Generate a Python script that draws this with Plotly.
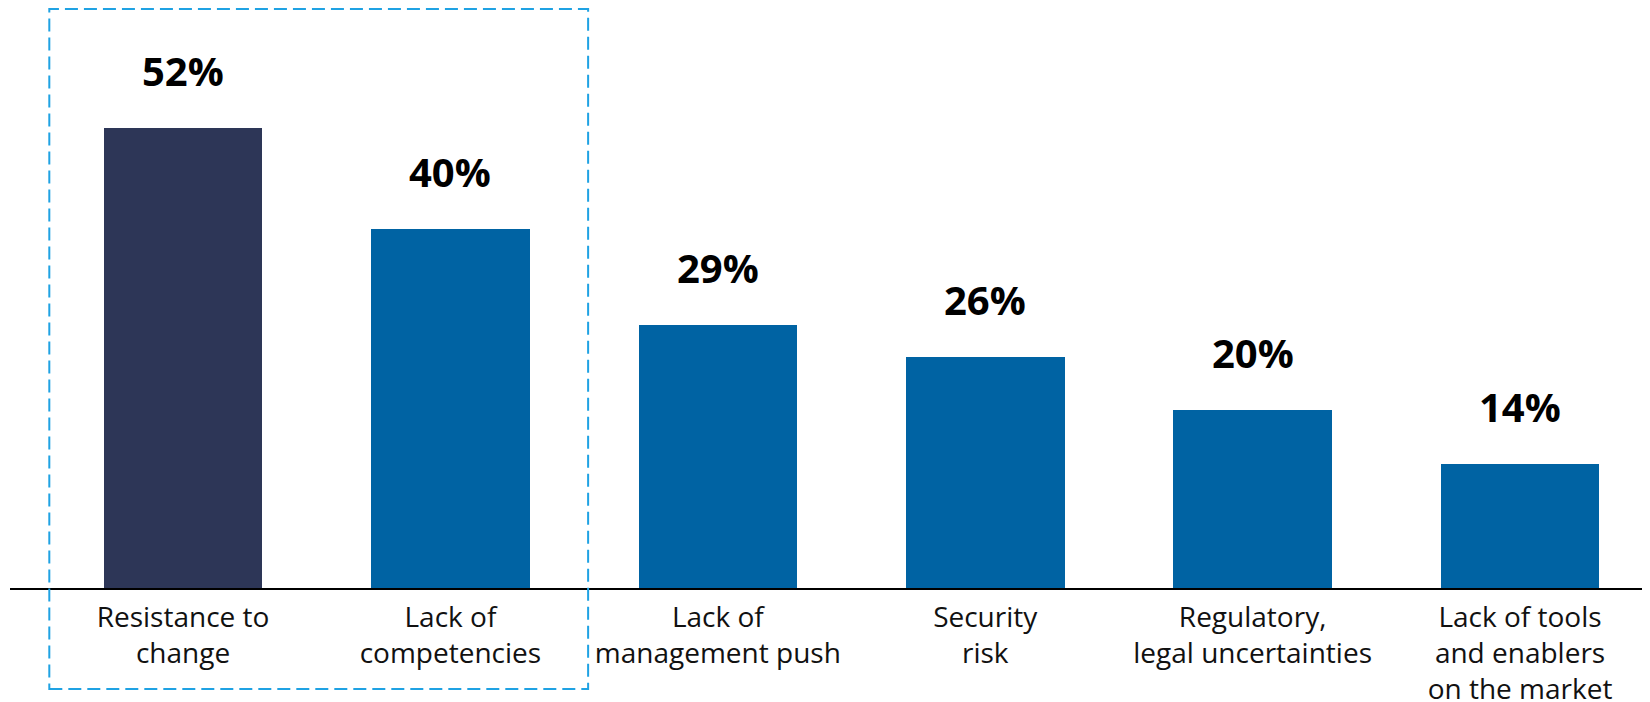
import plotly.graph_objects as go

categories = [
    "Resistance to<br>change",
    "Lack of<br>competencies",
    "Lack of<br>management push",
    "Security<br>risk",
    "Regulatory,<br>legal uncertainties",
    "Lack of tools<br>and enablers<br>on the market",
]
values = [52, 40.6, 29.8, 26.1, 20.1, 14]
value_labels = ["52%", "40%", "29%", "26%", "20%", "14%"]
bar_colors = ["#2D3657", "#0063A3", "#0063A3", "#0063A3", "#0063A3", "#0063A3"]

W, H = 1650, 702
ML, MR, MT, MB = 2, 0, 0, 122
plot_h = H - MT - MB
px_per_unit = 8.84
y_max = plot_h / px_per_unit

x_idx = list(range(len(categories)))

fig = go.Figure()
fig.add_trace(go.Bar(
    x=x_idx, y=values,
    marker=dict(color=bar_colors, line=dict(width=0)),
    width=0.593,
    hoverinfo="skip",
))

for i, (v, t) in enumerate(zip(values, value_labels)):
    fig.add_annotation(
        x=i, y=v, text=f"<b>{t}</b>", showarrow=False,
        yanchor="bottom", yshift=28,
        font=dict(family="Open Sans", size=40, color="#000000"),
    )

# dashed highlight box around the first two categories
fig.add_shape(
    type="rect", xref="x", yref="paper",
    x0=-0.5, x1=1.515,
    y0=-(681 - plot_h) / plot_h,
    y1=(plot_h - 1) / plot_h,
    line=dict(color="#1FA2E3", width=2, dash="13px,6px"),
    fillcolor="rgba(0,0,0,0)",
    layer="above",
)

fig.update_layout(
    width=W, height=H,
    margin=dict(l=ML, r=MR, t=MT, b=MB, pad=0, autoexpand=False),
    paper_bgcolor="white", plot_bgcolor="white",
    showlegend=False,
    bargap=0,
    xaxis=dict(
        range=[-0.647, 5.516],
        tickmode="array", tickvals=x_idx, ticktext=categories,
        showline=True, linecolor="#000000", linewidth=2,
        showgrid=False, zeroline=False, ticks="",
        ticklabelstandoff=3,
        automargin=False,
        tickfont=dict(family="Open Sans", size=28, color="#111111"),
        fixedrange=True,
    ),
    yaxis=dict(
        range=[0, y_max], visible=False, showgrid=False, zeroline=False,
        automargin=False,
        fixedrange=True,
    ),
)

fig.write_html("out.html")
